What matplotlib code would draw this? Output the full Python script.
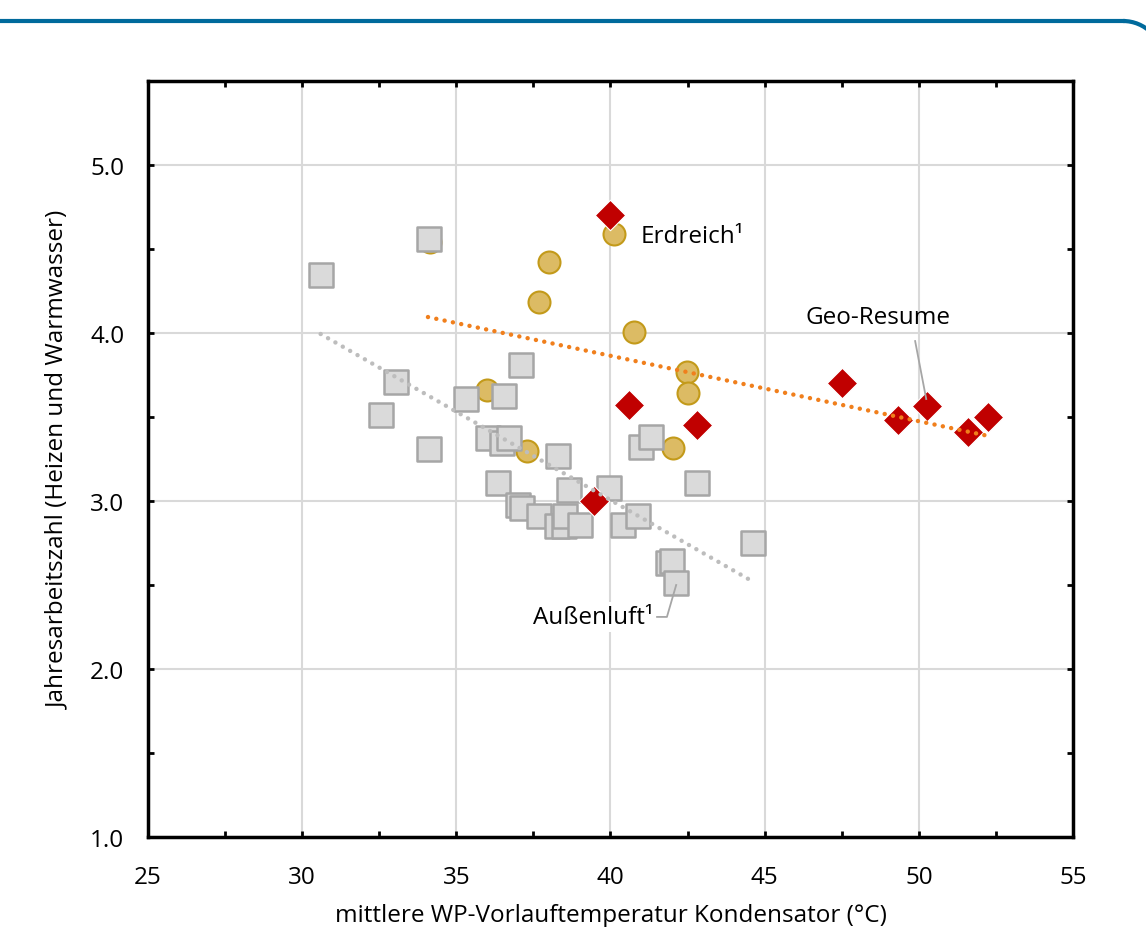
import numpy as np
import matplotlib
matplotlib.use('Agg')
import matplotlib.pyplot as plt
from matplotlib.ticker import MultipleLocator
from matplotlib.patches import Arc
from matplotlib.lines import Line2D

plt.rcParams['font.family'] = ['Open Sans', 'DejaVu Sans']
FS = 17.5

# Außenluft (air source) heat pumps
air_x = [30.6, 34.11, 33.04, 32.56, 34.11, 35.31, 36.55, 37.10, 36.03, 36.48,
         36.71, 38.3, 36.35, 37.0, 37.13, 37.68, 38.27, 38.5, 38.53, 39.0,
         38.66, 39.95, 40.4, 40.9, 41.87, 42.0, 42.13, 40.99, 41.32, 44.62, 42.8]
air_y = [4.345, 4.56, 3.71, 3.51, 3.31, 3.61, 3.625, 3.81, 3.375, 3.345,
         3.375, 3.27, 3.11, 2.976, 2.96, 2.91, 2.85, 2.85, 2.91, 2.86,
         3.065, 3.08, 2.86, 2.91, 2.63, 2.64, 2.51, 3.32, 3.38, 2.75, 3.11]

# Erdreich (ground source) heat pumps
ground_x = [34.14, 37.68, 38.0, 40.1, 40.76, 36.0, 37.29, 42.48, 42.52, 42.03]
ground_y = [4.54, 4.185, 4.42, 4.59, 4.006, 3.66, 3.30, 3.77, 3.64, 3.315]

# Geo-Resume field sites
geo_x = [39.99, 40.6, 42.8, 39.47, 47.51, 49.33, 50.27, 51.6, 52.25]
geo_y = [4.70, 3.57, 3.45, 3.00, 3.70, 3.48, 3.565, 3.41, 3.50]

# trend lines (end points)
trend_air_x = [30.6, 44.62]
trend_air_y = [3.994, 2.52]
trend_geo_x = [34.08, 52.18]
trend_geo_y = [4.095, 3.39]

fig = plt.figure(figsize=(11.46, 9.28), dpi=100)
ax = fig.add_axes([148/1146, 1-838/928, (1073-148)/1146, (838-82)/928])

ax.set_xlim(25, 55)
ax.set_ylim(1.0, 5.5)
ax.xaxis.set_major_locator(MultipleLocator(5))
ax.xaxis.set_minor_locator(MultipleLocator(2.5))
ax.yaxis.set_major_locator(MultipleLocator(1.0))
ax.yaxis.set_minor_locator(MultipleLocator(0.5))
ax.set_yticks([1, 2, 3, 4, 5])
ax.set_yticklabels(['1.0', '2.0', '3.0', '4.0', '5.0'])

ax.grid(True, which='major', color='#d9d9d9', linewidth=1.5, zorder=0)
ax.set_axisbelow(True)
for sp in ax.spines.values():
    sp.set_linewidth(2.5)
    sp.set_color('black')
ax.tick_params(which='both', direction='in', length=4.5, width=2,
               top=True, right=True, labelsize=FS, color='black')
ax.tick_params(axis='x', pad=20)
ax.tick_params(axis='y', pad=17)

ax.scatter(ground_x, ground_y, s=250, marker='o', facecolor='#dcbb64',
           edgecolor='#c39a1a', linewidth=1.5, zorder=3)
ax.scatter(air_x, air_y, s=290, marker='s', facecolor='#dadada',
           edgecolor='#a6a6a6', linewidth=1.8, zorder=4)
ax.scatter(geo_x, geo_y, s=240, marker='D', facecolor='#c00000',
           edgecolor='white', linewidth=0.8, zorder=5)

ax.plot(trend_air_x, trend_air_y, color='#bdbdbd', linewidth=3.2,
        linestyle=(0, (0.01, 1.9)), dash_capstyle='round', zorder=6)
ax.plot(trend_geo_x, trend_geo_y, color='#f07f1c', linewidth=3.2,
        linestyle=(0, (0.01, 1.9)), dash_capstyle='round', zorder=6)

# labels and leader lines
ax.text(40.99, 4.577, 'Erdreich¹', fontsize=FS, va='center', ha='left', zorder=7)
ax.text(46.31, 4.095, 'Geo-Resume', fontsize=FS, va='center', ha='left', zorder=7)
ax.plot([49.88, 50.24], [3.952, 3.607], color='#a6a6a6', linewidth=1.3, zorder=7)
ax.text(39.43, 2.31, 'Außenluft¹', fontsize=FS, va='center', ha='center', zorder=7,
        bbox=dict(facecolor='white', edgecolor='none', pad=2))
ax.plot([41.51, 41.83, 42.13], [2.31, 2.31, 2.50], color='#a6a6a6',
        linewidth=1.3, zorder=7)

ax.set_xlabel('mittlere WP-Vorlauftemperatur Kondensator (°C)', fontsize=FS,
              labelpad=10)
ax.set_ylabel('Jahresarbeitszahl (Heizen und Warmwasser)', fontsize=FS,
              labelpad=14)

# blue header rule with rounded right corner
blue = '#006a9c'
fig.add_artist(Line2D([0, 1123/1146], [1-22/928, 1-22/928], color=blue,
                      linewidth=3, transform=fig.transFigure))
fig.add_artist(Arc((1123/1146, 1-62/928), 80/1146, 80/928, theta1=0, theta2=90,
                   color=blue, linewidth=3, transform=fig.transFigure))

fig.savefig('out.png', dpi=100)
